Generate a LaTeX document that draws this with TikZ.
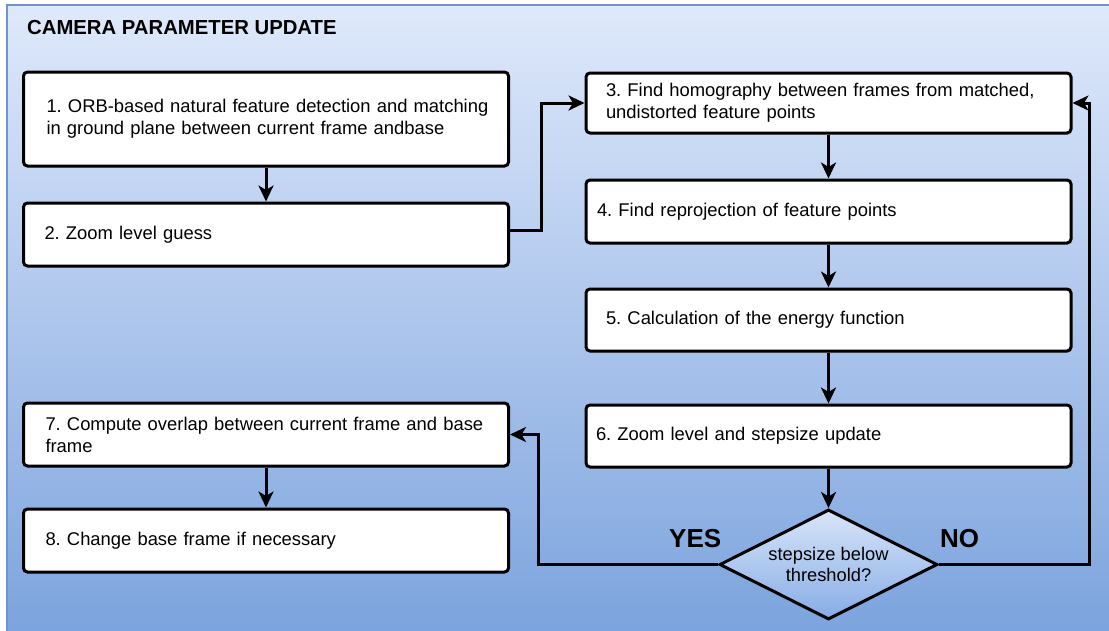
\documentclass[tikz,border=0pt]{standalone}
\usepackage{fontspec}
\setmainfont{Liberation Sans}
\usetikzlibrary{arrows.meta,shapes.geometric,shadows,calc}

\definecolor{bgtop}{HTML}{DFE9FB}
\definecolor{bgbot}{HTML}{7AA2DD}
\definecolor{framecol}{HTML}{6F93CF}
\definecolor{dtop}{HTML}{D8E5F8}
\definecolor{dbot}{HTML}{86ACE6}

\frenchspacing
\hyphenpenalty=10000
\hfuzz=20pt

\tikzset{
  stepbox/.style={draw=black, fill=white, line width=3pt, rounded corners=4pt,
    minimum width=485pt, align=left, inner ysep=0pt,
    font=\fontsize{18.4}{22}\selectfont,
    drop shadow={shadow xshift=0.6pt, shadow yshift=-1.6pt, opacity=0.25}},
  decision/.style={shape=diamond, draw=black, line width=3pt, aspect=2,
    inner sep=0pt, minimum width=218pt, minimum height=110pt,
    top color=dtop, bottom color=dbot, align=center,
    font=\fontsize{18.3}{21}\selectfont},
  arr/.style={draw=black, line width=3pt,
    -{Stealth[length=16pt,width=15pt,inset=4.5pt]}},
  answer/.style={font=\fontsize{26}{28}\bfseries\selectfont, inner sep=0pt},
}

\begin{document}
\begin{tikzpicture}[x=1pt, y=-1pt]
  \useasboundingbox (0,0) rectangle (1109,630);
  \clip (0,0) rectangle (1109,630);

  % panel with vertical gradient
  \shade[top color=bgtop, bottom color=bgbot] (7,5) rectangle (1125,645);
  \draw[framecol, line width=1.8pt] (7,5) rectangle (1125,645);

  \node[anchor=base west, inner sep=0pt, font=\fontsize{20.3}{22}\bfseries\selectfont]
    (title) at (27,34) {CAMERA PARAMETER UPDATE};

  % left column
  \node[stepbox, minimum height=94pt, inner xsep=23pt, text width=439pt] (b1) at (266,119)
    {\mbox{1. ORB-based natural feature detection and matching}\\in ground plane between current frame andbase};
  \node[stepbox, minimum height=63pt, inner xsep=21pt, text width=443pt] (b2) at (266,234.5)
    {2. Zoom level guess};
  \node[stepbox, minimum height=63pt, inner xsep=22pt, text width=441pt] (b7) at (266,434.5)
    {7. Compute overlap between current frame and base\\frame};
  \node[stepbox, minimum height=63pt, inner xsep=22pt, text width=441pt] (b8) at (266,540.5)
    {8. Change base frame if necessary};

  % right column
  \node[stepbox, minimum height=60pt, inner xsep=20pt, text width=445pt] (b3) at (828.5,103)
    {3. Find homography between frames from matched,\\undistorted feature points};
  \node[stepbox, minimum height=63pt, inner xsep=11pt, text width=463pt] (b4) at (828.5,211.5)
    {4. Find reprojection of feature points};
  \node[stepbox, minimum height=62pt, inner xsep=20pt, text width=445pt] (b5) at (828.5,320)
    {5. Calculation of the energy function};
  \node[stepbox, minimum height=62pt, inner xsep=10pt, text width=465pt] (b6) at (828.5,436)
    {6. Zoom level and stepsize update};

  \node[decision] (dec) at (828.5,564.5) {stepsize below\\threshold?};

  \node[answer, anchor=base west] (yes) at (669,547) {YES};
  \node[answer, anchor=base west] (no) at (940,547) {NO};

  % connectors
  \draw[arr] (b1) -- (b2);
  \draw[arr] ($(b2.east)+(0,-4.5)$) -- ++(31,0) |- (b3.west);
  \draw[arr] (b3) -- (b4);
  \draw[arr] (b4) -- (b5);
  \draw[arr] (b5) -- (b6);
  \draw[arr] (b6) -- (dec);
  \draw[arr] (dec.east) -- ++(150,0) |- (b3.east);
  \draw[arr] (dec.west) -- ++(-180,0) |- (b7.east);
  \draw[arr] (b7) -- (b8);
\end{tikzpicture}
\end{document}
